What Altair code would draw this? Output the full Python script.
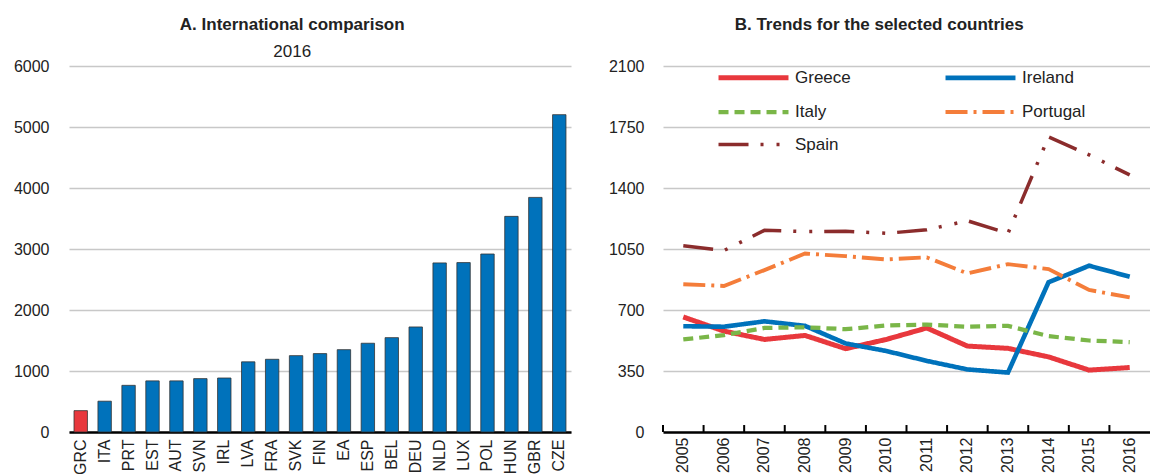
import altair as alt
import pandas as pd

FONT = "Liberation Sans, Arial, sans-serif"

# Panel A data
countries = ["GRC", "ITA", "PRT", "EST", "AUT", "SVN", "IRL", "LVA", "FRA", "SVK", "FIN",
             "EA", "ESP", "BEL", "DEU", "NLD", "LUX", "POL", "HUN", "GBR", "CZE"]
values_2016 = [350, 505, 765, 838, 838, 875, 885, 1150, 1192, 1252, 1285,
               1350, 1455, 1547, 1722, 2772, 2777, 2918, 3535, 3846, 5202]

# Panel B data
years = [2005, 2006, 2007, 2008, 2009, 2010, 2011, 2012, 2013, 2014, 2015, 2016]
greece = [660, 579, 531, 554, 478, 531, 597, 493, 480, 431, 355, 370]
ireland = [607, 604, 635, 609, 508, 465, 408, 359, 341, 859, 954, 891]
italy = [531, 556, 597, 601, 590, 611, 616, 604, 609, 550, 525, 516]
portugal = [848, 838, 929, 1024, 1009, 990, 1002, 910, 963, 935, 815, 772]
spain = [1068, 1041, 1157, 1150, 1152, 1140, 1160, 1212, 1140, 1693, 1590, 1475]

series_names = ["Greece", "Ireland", "Italy", "Portugal", "Spain"]
series_vals = [greece, ireland, italy, portugal, spain]
series_colors = ["#e8383d", "#0072bb", "#7ab648", "#f47d3a", "#8b2c2c"]
series_dash = [[1, 0], [1, 0], [10, 6], [22, 6, 3, 6], [30, 12, 3, 13, 3, 12]]
series_width = [5, 3.5, 3.5, 3.5, 3.5]

BLUE = "#0072bb"
RED = "#e8383d"
GRID = "#c8c8c8"

df_a = pd.DataFrame({"country": countries, "value": values_2016})

rows = []
for name, vals in zip(series_names, series_vals):
    for yr, v in zip(years, vals):
        rows.append({"country": name, "year": str(yr), "value": v})
df_b = pd.DataFrame(rows)
df_ticks = pd.DataFrame({"year": [str(y) for y in years], "lo": 0, "hi": 40})

YSCALE_B = alt.Scale(domain=[0, 2100], nice=False, zero=True)

chart_a = alt.Chart(df_a, title=alt.TitleParams(
    "A. International comparison", subtitle="2016", anchor="middle", frame="bounds",
    font=FONT, fontSize=17, fontWeight="bold", color="#222",
    subtitleFont=FONT, subtitleFontSize=17, subtitleColor="#222",
    subtitlePadding=10, offset=-3)).mark_bar(stroke="#333", strokeWidth=0.8).encode(
    x=alt.X("country:N", sort=None, title=None,
            scale=alt.Scale(paddingInner=0.44, paddingOuter=0.21),
            axis=alt.Axis(labelAngle=-90, ticks=False, labelPadding=7,
                          domainColor="#000", domainWidth=2.5, labelBaseline="middle", labelAlign="right")),
    y=alt.Y("value:Q", title=None, scale=alt.Scale(domain=[0, 6000]),
            axis=alt.Axis(values=[0, 1000, 2000, 3000, 4000, 5000, 6000], format="d", ticks=False,
                          domain=False, labelPadding=20, gridColor=GRID, gridWidth=1.5)),
    color=alt.condition(alt.datum.country == "GRC", alt.value(RED), alt.value(BLUE)),
).properties(width=502, height=366)

legend = alt.Legend(title=None, orient="none", legendX=76, legendY=-3, columns=2, direction="horizontal",
                    columnPadding=85, rowPadding=10, symbolType="M-3,0H3", symbolSize=544,
                    labelFont=FONT, labelFontSize=17, labelColor="#222", labelOffset=27,
                    symbolStrokeColor=None)

Y_AXIS_B = alt.Axis(values=[0, 350, 700, 1050, 1400, 1750, 2100], format="d", ticks=False,
                    domain=False, labelPadding=19, gridColor=GRID, gridWidth=1.5)

lines = alt.Chart(df_b).mark_line().encode(
    x=alt.X("year:O", title=None,
            axis=alt.Axis(labelAngle=-90, ticks=False, labelPadding=5, domainColor="#000",
                          domainWidth=2.5, labelBaseline="middle", labelAlign="right")),
    y=alt.Y("value:Q", title=None, scale=YSCALE_B, axis=Y_AXIS_B),
    color=alt.Color("country:N", scale=alt.Scale(domain=series_names, range=series_colors),
                    legend=legend),
    strokeDash=alt.StrokeDash("country:N", scale=alt.Scale(domain=series_names, range=series_dash),
                              legend=legend),
    strokeWidth=alt.StrokeWidth("country:N", scale=alt.Scale(domain=series_names, range=series_width),
                                legend=legend),
)

ticks = alt.Chart(df_ticks).mark_rule(color="#000", strokeWidth=2).encode(
    x=alt.X("year:O", bandPosition=0, title=None),
    y=alt.Y("lo:Q", title=None, scale=YSCALE_B, axis=Y_AXIS_B),
    y2="hi:Q",
)

chart_b = alt.layer(lines, ticks, title=alt.TitleParams(
    "B. Trends for the selected countries", subtitle=" ", anchor="middle", frame="bounds",
    font=FONT, fontSize=17, fontWeight="bold", color="#222",
    subtitleFont=FONT, subtitleFontSize=17, subtitlePadding=10, offset=-3)).properties(width=487, height=366)

chart = alt.hconcat(chart_a, chart_b, spacing=37).resolve_scale(
    color="independent", strokeDash="independent", strokeWidth="independent"
).properties(
    padding={"left": 5, "top": 8, "right": 0, "bottom": 0}
).configure(
    font=FONT
).configure_axis(
    labelFont=FONT, labelFontSize=16, labelColor="#222"
).configure_view(stroke=None)

chart.save("out.html", embed_options={"renderer": "svg", "actions": False})
